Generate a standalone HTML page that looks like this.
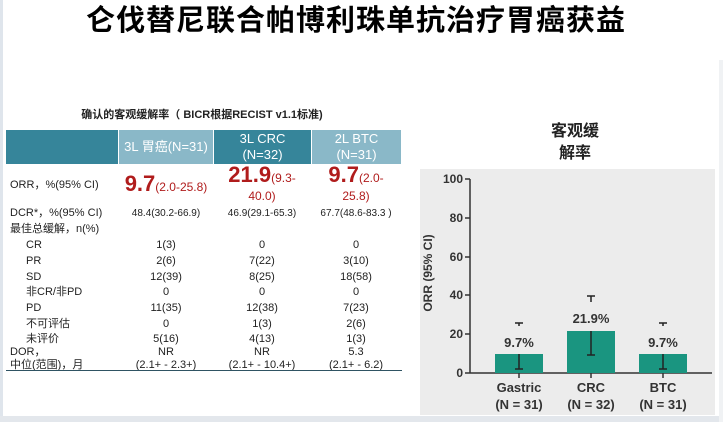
<!DOCTYPE html>
<html><head><meta charset="utf-8"><style>
body{margin:0;width:723px;height:422px;background:#fff;position:relative;overflow:hidden;font-family:"Liberation Sans","Noto Sans CJK SC",sans-serif;}
.a{position:absolute;white-space:nowrap;}
.c{text-align:center;transform:translateX(-50%);}
.t{font-size:11px;color:#222;line-height:13px;}
.h{position:absolute;top:130px;height:34px;color:#fff;font-size:13px;text-align:center;display:flex;align-items:center;justify-content:center;line-height:16px;}
.red{color:#b01c1c;font-weight:bold;}
</style></head><body>
<div class="a" style="left:0;top:0;width:3px;height:422px;background:#dfe5ec"></div>
<div class="a" style="left:0;top:416px;width:723px;height:6px;background:#e3e7ec"></div>
<div class="a" style="left:719px;top:60px;width:4px;height:362px;background:#f0f2f4"></div>
<div class="a c" style="left:356px;top:3px;font-size:29px;font-weight:bold;color:#000;letter-spacing:1px;line-height:36px">仑伐替尼联合帕博利珠单抗治疗胃癌获益</div>
<div class="a c" style="left:202px;top:109px;font-size:11px;font-weight:bold;color:#222;line-height:13px">确认的客观缓解率（ BICR根据RECIST v1.1标准)</div>
<div class="h" style="left:6px;width:112px;background:#36859a"></div>
<div class="h" style="left:119px;width:94px;background:#8ab8c8">3L 胃癌(N=31)</div>
<div class="h" style="left:214px;width:97px;background:#36859a">3L CRC<br>(N=32)</div>
<div class="h" style="left:312px;width:89px;background:#8ab8c8">2L BTC<br>(N=31)</div>
<div class="a t" style="left:10px;top:179px">ORR，%(95% CI)</div>
<div class="a c" style="left:166px;top:172px;font-size:12px;color:#b01c1c;line-height:24px"><span class="red" style="font-size:22px">9.7</span>(2.0-25.8)</div>
<div class="a c" style="left:262px;top:166px;font-size:12px;color:#b01c1c;text-align:center;line-height:18px"><span class="red" style="font-size:22px">21.9</span>(9.3-<br>40.0)</div>
<div class="a c" style="left:356px;top:166px;font-size:12px;color:#b01c1c;text-align:center;line-height:18px"><span class="red" style="font-size:22px">9.7</span>(2.0-<br>25.8)</div>
<div class="a t" style="left:10px;top:207px">DCR*，%(95% CI)</div>
<div class="a t c" style="left:166px;top:207px;font-size:10px">48.4(30.2-66.9)</div>
<div class="a t c" style="left:262px;top:207px;font-size:10px">46.9(29.1-65.3)</div>
<div class="a t c" style="left:356px;top:207px;font-size:10px">67.7(48.6-83.3 )</div>
<div class="a t" style="left:10px;top:223px">最佳总缓解，n(%)</div>
<div class="a t" style="left:26px;top:239px">CR</div><div class="a t c" style="left:166px;top:239px">1(3)</div><div class="a t c" style="left:262px;top:239px">0</div><div class="a t c" style="left:356px;top:239px">0</div>
<div class="a t" style="left:26px;top:255px">PR</div><div class="a t c" style="left:166px;top:255px">2(6)</div><div class="a t c" style="left:262px;top:255px">7(22)</div><div class="a t c" style="left:356px;top:255px">3(10)</div>
<div class="a t" style="left:26px;top:271px">SD</div><div class="a t c" style="left:166px;top:271px">12(39)</div><div class="a t c" style="left:262px;top:271px">8(25)</div><div class="a t c" style="left:356px;top:271px">18(58)</div>
<div class="a t" style="left:26px;top:286px">非CR/非PD</div><div class="a t c" style="left:166px;top:286px">0</div><div class="a t c" style="left:262px;top:286px">0</div><div class="a t c" style="left:356px;top:286px">0</div>
<div class="a t" style="left:26px;top:302px">PD</div><div class="a t c" style="left:166px;top:302px">11(35)</div><div class="a t c" style="left:262px;top:302px">12(38)</div><div class="a t c" style="left:356px;top:302px">7(23)</div>
<div class="a t" style="left:26px;top:318px">不可评估</div><div class="a t c" style="left:166px;top:318px">0</div><div class="a t c" style="left:262px;top:318px">1(3)</div><div class="a t c" style="left:356px;top:318px">2(6)</div>
<div class="a t" style="left:26px;top:333px">未评价</div><div class="a t c" style="left:166px;top:333px">5(16)</div><div class="a t c" style="left:262px;top:333px">4(13)</div><div class="a t c" style="left:356px;top:333px">1(3)</div>
<div class="a t" style="left:10px;top:346px">DOR，<br>中位(范围)，月</div>
<div class="a t c" style="left:166px;top:346px;text-align:center">NR<br>(2.1+ - 2.3+)</div>
<div class="a t c" style="left:262px;top:346px;text-align:center">NR<br>(2.1+ - 10.4+)</div>
<div class="a t c" style="left:356px;top:346px;text-align:center">5.3<br>(2.1+ - 6.2)</div>
<div class="a" style="left:6px;top:370px;width:396px;height:1px;background:#2f5363"></div>
<div class="a c" style="left:575px;top:121px;font-size:16px;font-weight:bold;color:#222;text-align:center;line-height:22px">客观缓<br>解率</div>
<svg class="a" style="left:0;top:0" width="723" height="422">
<rect x="420" y="169" width="295" height="246" fill="#ececec"/>
<g stroke="#333" stroke-width="1.5" fill="none">
<line x1="470" y1="179" x2="470" y2="373"/><line x1="470" y1="373" x2="712" y2="373"/>
<line x1="465" y1="179" x2="470" y2="179"/><line x1="465" y1="218" x2="470" y2="218"/><line x1="465" y1="257" x2="470" y2="257"/><line x1="465" y1="295" x2="470" y2="295"/><line x1="465" y1="334" x2="470" y2="334"/><line x1="465" y1="373" x2="470" y2="373"/>
<line x1="519" y1="373" x2="519" y2="378"/><line x1="591" y1="373" x2="591" y2="378"/><line x1="663" y1="373" x2="663" y2="378"/>
</g>
<g font-family="Liberation Sans" font-weight="bold" font-size="12" fill="#333" text-anchor="end">
<text x="463" y="183">100</text><text x="463" y="222">80</text><text x="463" y="261">60</text><text x="463" y="299">40</text><text x="463" y="338">20</text><text x="463" y="377">0</text></g>
<text transform="translate(432,273) rotate(-90)" text-anchor="middle" font-family="Liberation Sans" font-weight="bold" font-size="12" fill="#333">ORR (95% CI)</text>
<g fill="#1a9580"><rect x="495" y="354" width="48" height="19"/><rect x="567" y="331" width="48" height="42"/><rect x="639" y="354" width="48" height="19"/></g>
<g stroke="#222" stroke-width="1.5">
<line x1="515" y1="323" x2="523" y2="323"/><line x1="519" y1="323" x2="519" y2="326"/><line x1="519" y1="354" x2="519" y2="369"/><line x1="515" y1="369" x2="523" y2="369"/>
<line x1="587" y1="296" x2="595" y2="296"/><line x1="591" y1="296" x2="591" y2="302"/><line x1="591" y1="331" x2="591" y2="355"/><line x1="587" y1="355" x2="595" y2="355"/>
<line x1="659" y1="323" x2="667" y2="323"/><line x1="663" y1="323" x2="663" y2="326"/><line x1="663" y1="354" x2="663" y2="369"/><line x1="659" y1="369" x2="667" y2="369"/>
</g>
<g font-family="Liberation Sans" font-weight="bold" font-size="13" fill="#333" text-anchor="middle">
<text x="519" y="347">9.7%</text><text x="591" y="323">21.9%</text><text x="663" y="347">9.7%</text>
<text x="519" y="392">Gastric</text><text x="591" y="392">CRC</text><text x="663" y="392">BTC</text>
<text x="519" y="409">(N = 31)</text><text x="591" y="409">(N = 32)</text><text x="663" y="409">(N = 31)</text>
</g>
</svg>
</body></html>
